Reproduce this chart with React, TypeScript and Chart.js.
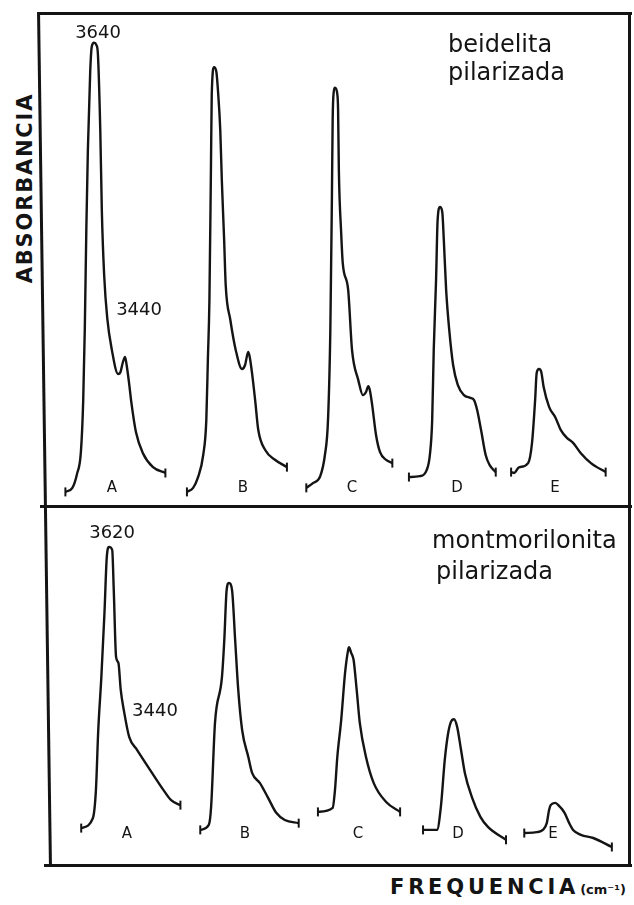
import React, { useEffect, useRef, useState } from "react";
import { Chart, registerables } from "chart.js";

Chart.register(...registerables);

// ---- data -------------------------------------------------------------

const traceLetters = ["A", "B", "C", "D", "E"];

// beidelita pilarizada: wavenumber (cm-1) and absorbance of each trace
const beidWnA = [3825, 3780, 3750, 3725, 3710, 3700, 3690, 3680, 3665, 3655, 3640, 3625, 3615, 3600, 3590, 3575, 3555, 3525, 3485, 3470, 3455, 3440, 3430, 3415, 3400, 3370, 3325, 3260, 3180];
const beidAbsA = [0.018, 0.027, 0.058, 0.107, 0.222, 0.378, 0.6, 0.778, 0.951, 1.007, 1.016, 1.011, 0.989, 0.822, 0.644, 0.5, 0.404, 0.333, 0.28, 0.284, 0.305, 0.318, 0.3, 0.262, 0.218, 0.151, 0.104, 0.073, 0.06];

const beidWnB = [3815, 3775, 3745, 3710, 3690, 3680, 3670, 3660, 3655, 3640, 3625, 3615, 3600, 3590, 3575, 3565, 3535, 3500, 3460, 3440, 3420, 3410, 3395, 3375, 3355, 3310, 3245, 3170];
const beidAbsB = [0.018, 0.027, 0.049, 0.1, 0.178, 0.311, 0.444, 0.741, 0.9, 0.962, 0.951, 0.911, 0.822, 0.711, 0.578, 0.478, 0.4, 0.333, 0.291, 0.3, 0.329, 0.318, 0.282, 0.222, 0.156, 0.111, 0.089, 0.073];

const beidWnC = [3825, 3780, 3735, 3705, 3685, 3670, 3660, 3655, 3648, 3640, 3625, 3620, 3615, 3600, 3590, 3555, 3530, 3490, 3460, 3440, 3425, 3415, 3400, 3375, 3350, 3310, 3270];
const beidAbsC = [0.027, 0.038, 0.053, 0.1, 0.178, 0.378, 0.667, 0.844, 0.907, 0.916, 0.902, 0.867, 0.733, 0.593, 0.527, 0.467, 0.333, 0.267, 0.233, 0.24, 0.253, 0.244, 0.211, 0.144, 0.107, 0.089, 0.082];

const beidWnD = [3840, 3770, 3725, 3705, 3690, 3680, 3665, 3655, 3640, 3625, 3615, 3600, 3580, 3555, 3525, 3485, 3445, 3420, 3400, 3375, 3345, 3320, 3280];
const beidAbsD = [0.051, 0.053, 0.067, 0.1, 0.178, 0.333, 0.489, 0.622, 0.651, 0.64, 0.578, 0.467, 0.378, 0.3, 0.256, 0.233, 0.227, 0.222, 0.2, 0.156, 0.1, 0.078, 0.062];

const beidWnE = [3820, 3800, 3775, 3765, 3710, 3685, 3665, 3655, 3640, 3625, 3610, 3575, 3535, 3500, 3460, 3420, 3370, 3305, 3210];
const beidAbsE = [0.062, 0.06, 0.071, 0.073, 0.082, 0.127, 0.222, 0.282, 0.291, 0.284, 0.251, 0.207, 0.184, 0.156, 0.138, 0.127, 0.104, 0.082, 0.062];

// montmorilonita pilarizada: wavenumber (cm-1) and absorbance of each trace
const montWnA = [3800, 3725, 3705, 3690, 3670, 3650, 3635, 3620, 3600, 3590, 3575, 3560, 3545, 3525, 3490, 3440, 3355, 3270, 3220, 3160];
const montAbsA = [0.082, 0.104, 0.167, 0.3, 0.418, 0.56, 0.684, 0.707, 0.7, 0.611, 0.462, 0.449, 0.389, 0.344, 0.284, 0.256, 0.211, 0.167, 0.144, 0.133];

const montWnB = [3805, 3750, 3735, 3710, 3665, 3650, 3635, 3620, 3600, 3580, 3560, 3535, 3495, 3470, 3420, 3370, 3315, 3260, 3170];
const montAbsB = [0.078, 0.089, 0.129, 0.316, 0.418, 0.5, 0.611, 0.627, 0.611, 0.5, 0.389, 0.3, 0.24, 0.204, 0.182, 0.151, 0.116, 0.1, 0.093];

const montWnC = [3820, 3725, 3710, 3695, 3670, 3645, 3625, 3620, 3605, 3590, 3570, 3550, 3510, 3460, 3380, 3290];
const montAbsC = [0.118, 0.127, 0.167, 0.24, 0.322, 0.427, 0.478, 0.484, 0.471, 0.456, 0.389, 0.316, 0.24, 0.182, 0.14, 0.118];

const montWnD = [3820, 3730, 3705, 3680, 3660, 3640, 3620, 3600, 3575, 3550, 3505, 3450, 3400, 3285];
const montAbsD = [0.078, 0.078, 0.129, 0.233, 0.289, 0.318, 0.324, 0.307, 0.256, 0.204, 0.151, 0.107, 0.084, 0.056];

const montWnE = [3805, 3725, 3685, 3660, 3645, 3635, 3605, 3580, 3545, 3515, 3490, 3440, 3360, 3240];
const montAbsE = [0.071, 0.073, 0.078, 0.093, 0.122, 0.133, 0.138, 0.131, 0.116, 0.093, 0.078, 0.067, 0.06, 0.04];

// traces are displaced along the frequency axis for clarity (cm-1)
const beidShift = [63, 837, 1617, 2294, 2933];
const montShift = [140, 913, 1687, 2365, 3003];

// ---- layout -----------------------------------------------------------

const WN_REF = 3900;
const X_SPAN = 3780;
const INK = "#141414";

const PLOT_LEFT = 44;
const PLOT_WIDTH = 586;
const TOP_Y = 14;
const TOP_H = 492;
const BOT_Y = 506;
const BOT_H = 359;

const beidLetterX = [112, 243, 352, 457, 555];
const montLetterX = [127, 245, 358, 458, 553];

const absAt = (wn: number[], ab: number[], w: number) => ab[wn.indexOf(w)];

function buildChart(
  canvas: HTMLCanvasElement,
  wnSets: number[][],
  absSets: number[][],
  shifts: number[],
  yMin: number,
  yMax: number
) {
  const datasets = wnSets.map((wn, i) => {
    const n = wn.length;
    return {
      label: traceLetters[i],
      data: wn.map((w, k) => ({ x: shifts[i] + WN_REF - w, y: absSets[i][k] })),
      borderColor: INK,
      borderWidth: 2.4,
      cubicInterpolationMode: "monotone" as const,
      fill: false,
      pointStyle: "line" as const,
      pointRotation: 90,
      pointRadius: (ctx: any) => (ctx.dataIndex === 0 || ctx.dataIndex === n - 1 ? 4.5 : 0),
      pointHoverRadius: 0,
      pointBorderColor: INK,
      pointBackgroundColor: INK,
      pointBorderWidth: 2,
    };
  });
  return new Chart(canvas, {
    type: "line",
    data: { datasets },
    options: {
      responsive: false,
      maintainAspectRatio: false,
      animation: false,
      devicePixelRatio: 1,
      events: [],
      layout: { padding: 0, autoPadding: false },
      plugins: { legend: { display: false }, tooltip: { enabled: false }, title: { display: false } },
      scales: {
        x: { type: "linear", min: 0, max: X_SPAN, display: false },
        y: { type: "linear", min: yMin, max: yMax, display: false },
      },
    },
  });
}

type Pt = { x: number; y: number };

export default function App() {
  const topRef = useRef<HTMLCanvasElement>(null);
  const botRef = useRef<HTMLCanvasElement>(null);
  const [marks, setMarks] = useState<Record<string, Pt> | null>(null);

  useEffect(() => {
    if (!topRef.current || !botRef.current) return;
    const top = buildChart(
      topRef.current,
      [beidWnA, beidWnB, beidWnC, beidWnD, beidWnE],
      [beidAbsA, beidAbsB, beidAbsC, beidAbsD, beidAbsE],
      beidShift,
      -6 / 450,
      486 / 450
    );
    const bot = buildChart(
      botRef.current,
      [montWnA, montWnB, montWnC, montWnD, montWnE],
      [montAbsA, montAbsB, montAbsC, montAbsD, montAbsE],
      montShift,
      0,
      BOT_H / 450
    );
    const at = (chart: Chart, offY: number, shift: number, w: number, a: number): Pt => ({
      x: PLOT_LEFT + chart.scales.x.getPixelForValue(shift + WN_REF - w),
      y: offY + chart.scales.y.getPixelForValue(a),
    });
    setMarks({
      b3640: at(top, TOP_Y, beidShift[0], 3640, absAt(beidWnA, beidAbsA, 3640)),
      b3440: at(top, TOP_Y, beidShift[0], 3440, absAt(beidWnA, beidAbsA, 3440)),
      m3620: at(bot, BOT_Y, montShift[0], 3620, absAt(montWnA, montAbsA, 3620)),
      m3440: at(bot, BOT_Y, montShift[0], 3440, absAt(montWnA, montAbsA, 3440)),
    });
    return () => {
      top.destroy();
      bot.destroy();
    };
  }, []);

  const font = "'DejaVu Sans', 'Liberation Sans', sans-serif";
  const num: React.CSSProperties = {
    position: "absolute",
    fontFamily: font,
    fontSize: 18,
    color: INK,
    transform: "translate(-50%, -50%)",
    whiteSpace: "nowrap",
    lineHeight: 1,
  };
  const letter: React.CSSProperties = {
    position: "absolute",
    fontFamily: font,
    fontSize: 15,
    color: INK,
    transform: "translate(-50%, -50%)",
    lineHeight: 1,
  };
  const title: React.CSSProperties = {
    position: "absolute",
    fontFamily: font,
    fontSize: 24,
    color: INK,
    whiteSpace: "nowrap",
  };
  const line = (s: React.CSSProperties): React.CSSProperties => ({ position: "absolute", background: INK, ...s });

  return (
    <div style={{ position: "absolute", left: 0, top: 0, width: 634, height: 905, background: "#fff", overflow: "hidden" }}>
      <canvas
        ref={topRef}
        width={PLOT_WIDTH}
        height={TOP_H}
        style={{ position: "absolute", left: PLOT_LEFT, top: TOP_Y, width: PLOT_WIDTH, height: TOP_H }}
      />
      <canvas
        ref={botRef}
        width={PLOT_WIDTH}
        height={BOT_H}
        style={{ position: "absolute", left: PLOT_LEFT, top: BOT_Y, width: PLOT_WIDTH, height: BOT_H }}
      />

      {/* frame */}
      <div style={line({ left: 38, top: 12, width: 594, height: 3 })} />
      <div style={line({ left: 40, top: 505, width: 592, height: 3 })} />
      <div style={line({ left: 44, top: 864, width: 588, height: 3 })} />
      <div style={line({ left: 43, top: 12, width: 3, height: 855, transform: "rotate(-0.8deg)" })} />
      <div style={line({ left: 628, top: 12, width: 3, height: 855 })} />

      {/* panel titles */}
      <div style={{ ...title, left: 448, top: 30, lineHeight: "28px" }}>
        beidelita
        <br />
        pilarizada
      </div>
      <div style={{ ...title, left: 432, top: 525, lineHeight: "31px" }}>
        montmorilonita
        <br />
        <span style={{ paddingLeft: 4 }}>pilarizada</span>
      </div>

      {/* trace letters */}
      {traceLetters.map((t, i) => (
        <div key={"b" + t} style={{ ...letter, left: beidLetterX[i], top: 487 }}>
          {t}
        </div>
      ))}
      {traceLetters.map((t, i) => (
        <div key={"m" + t} style={{ ...letter, left: montLetterX[i], top: 833 }}>
          {t}
        </div>
      ))}

      {/* band positions */}
      {marks && (
        <>
          <div style={{ ...num, left: marks.b3640.x + 4, top: marks.b3640.y - 11 }}>3640</div>
          <div style={{ ...num, left: marks.b3440.x + 14, top: marks.b3440.y - 48 }}>3440</div>
          <div style={{ ...num, left: marks.m3620.x + 3, top: marks.m3620.y - 15 }}>3620</div>
          <div style={{ ...num, left: marks.m3440.x + 18, top: marks.m3440.y - 40 }}>3440</div>
        </>
      )}

      {/* axis titles */}
      <div
        style={{
          position: "absolute",
          left: 25,
          top: 188,
          transform: "translate(-50%, -50%) rotate(-90deg)",
          fontFamily: font,
          fontWeight: 700,
          fontSize: 21,
          letterSpacing: 1.8,
          color: INK,
          whiteSpace: "nowrap",
          lineHeight: 1,
        }}
      >
        ABSORBANCIA
      </div>
      <div
        style={{
          position: "absolute",
          left: 390,
          top: 887,
          transform: "translateY(-50%)",
          fontFamily: font,
          color: INK,
          whiteSpace: "nowrap",
          lineHeight: 1,
        }}
      >
        <span style={{ fontWeight: 700, fontSize: 21, letterSpacing: 3.8 }}>FREQUENCIA</span>
        <span style={{ fontWeight: 700, fontSize: 13, marginLeft: 1 }}>(cm⁻¹)</span>
      </div>
    </div>
  );
}
